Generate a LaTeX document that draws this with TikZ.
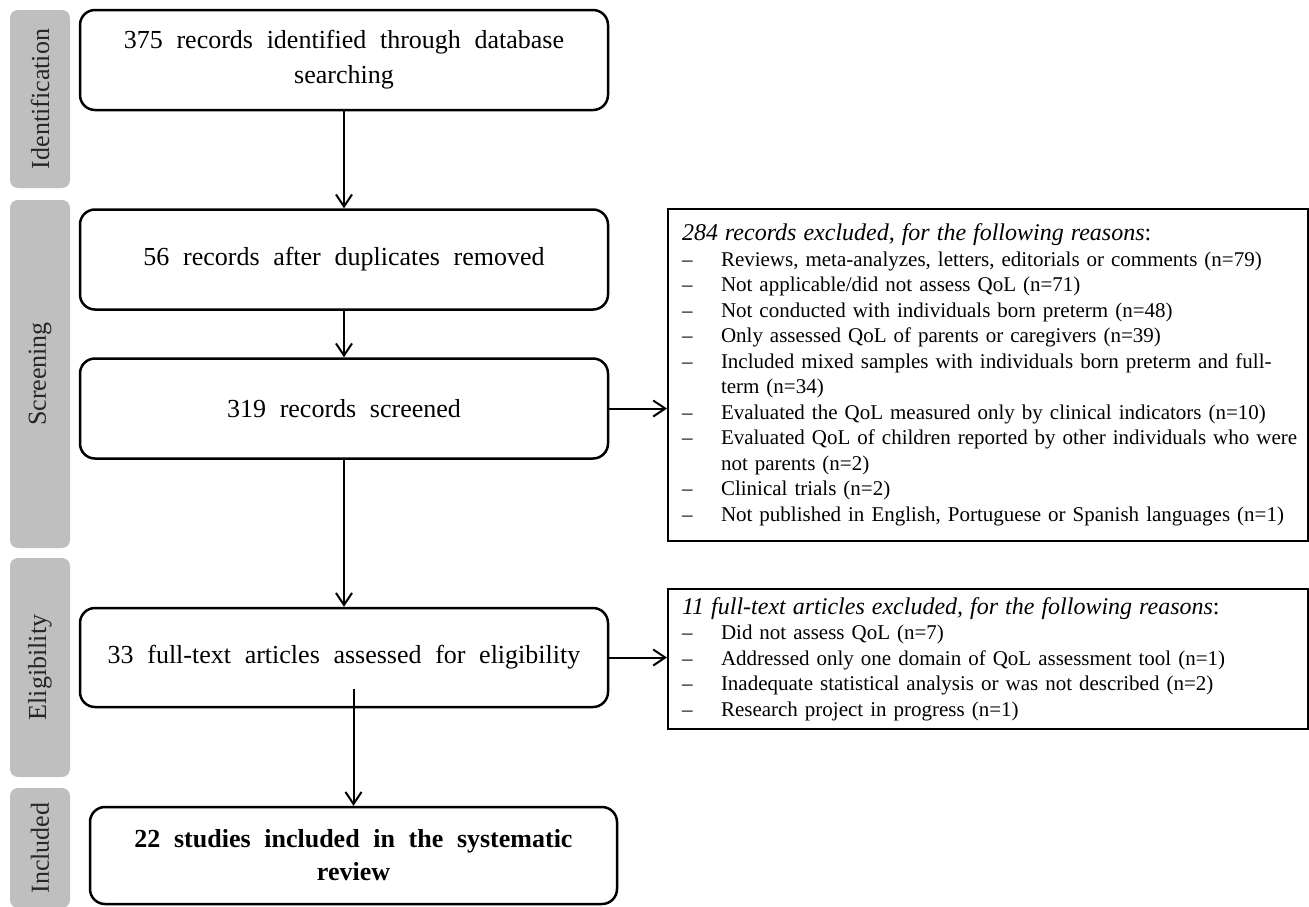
\documentclass[tikz,border=0pt]{standalone}
\usepackage{fontspec}
\setmainfont{Liberation Serif}
\newfontfamily\widefont[WordSpace=2.1]{Liberation Serif}
\usetikzlibrary{arrows.meta,calc}
\definecolor{sidegray}{HTML}{BFBFBF}
\newcommand{\itm}[1]{\mbox{\makebox[39pt][l]{–}#1}}
\newcommand{\cont}[1]{\mbox{\hspace*{39pt}#1}}
\newcommand{\hdr}[1]{\mbox{\fontsize{24}{25.5}\selectfont\textit{#1}:}}
\tikzset{
  mainbox/.style={draw, line width=2.5pt, rounded corners=15pt, minimum width=528pt,
    minimum height=100pt, align=center, font=\widefont\fontsize{26}{35}\selectfont, inner sep=4pt},
  sidebar/.style={fill=sidegray, rounded corners=8pt, rotate=90, minimum height=60pt,
    font=\fontsize{26}{30}\selectfont, text=black!85, inner sep=0pt},
  exclbox/.style={draw, line width=2pt, align=left, text width=612pt, inner xsep=14pt,
    inner ysep=0pt, font=\fontsize{21}{25.5}\selectfont, anchor=north west},
  arr/.style={line width=2pt, -{Straight Barb[length=12pt,width=16pt]}},
}
\begin{document}
\begin{tikzpicture}[x=1pt,y=-1pt]
\useasboundingbox (0,0) rectangle (1309,906);

% side bars
\node[sidebar, minimum width=178pt] (sid) at (40,99) {Identification};
\node[sidebar, minimum width=348pt] (sscr) at (40,374) {Screening};
\node[sidebar, minimum width=219pt] (seli) at (40,667.5) {Eligibility};
\node[sidebar, minimum width=120pt] (sinc) at (40,848) {Included};

% main flow
\node[mainbox] (b1) at (344,60) {375 records identified through database\\searching};
\node[mainbox] (b2) at (344,259.5) {56 records after duplicates removed};
\node[mainbox] (b3) at (344,408.5) {319 records screened};
\node[mainbox, minimum height=99pt] (b4) at (344,657.5) {33 full-text articles assessed for eligibility};
\node[mainbox, minimum width=527pt, minimum height=97pt, font=\widefont\fontsize{26}{33}\selectfont\bfseries] (b5) at (353.5,855.5) {22 studies included in the systematic\\review};

% exclusion boxes
\node[exclbox, minimum height=332pt] (r1) at (667,208) {%
\hdr{284 records excluded, for the following reasons}\\
\itm{Reviews, meta-analyzes, letters, editorials or comments (n=79)}\\
\itm{Not applicable/did not assess QoL (n=71)}\\
\itm{Not conducted with individuals born preterm (n=48)}\\
\itm{Only assessed QoL of parents or caregivers (n=39)}\\
\itm{Included mixed samples with individuals born preterm and full-}\\
\cont{term (n=34)}\\
\itm{Evaluated the QoL measured only by clinical indicators (n=10)}\\
\itm{Evaluated QoL of children reported by other individuals who were}\\
\cont{not parents (n=2)}\\
\itm{Clinical trials (n=2)}\\
\itm{Not published in English, Portuguese or Spanish languages (n=1)}};

\node[exclbox, minimum height=140pt] (r2) at (667,588) {%
\hdr{11 full-text articles excluded, for the following reasons}\\
\itm{Did not assess QoL (n=7)}\\
\itm{Addressed only one domain of QoL assessment tool (n=1)}\\
\itm{Inadequate statistical analysis or was not described (n=2)}\\
\itm{Research project in progress (n=1)}};

% connectors
\draw[arr] (b1.south) -- (b2.north);
\draw[arr] (b2.south) -- (b3.north);
\draw[arr] (b3.south) -- (b4.north);
\draw[arr] ([xshift=9.5pt,yshift=19pt]b4.south) -- (b5.north);
\draw[arr] (b3.east) -- (b3.east -| r1.west);
\draw[arr] (b4.east) -- (b4.east -| r2.west);
\end{tikzpicture}
\end{document}
